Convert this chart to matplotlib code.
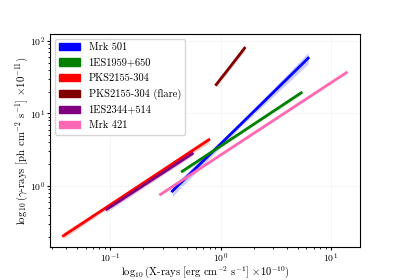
import numpy as np
import matplotlib
matplotlib.use("Agg")
import matplotlib.pyplot as plt
from matplotlib.patches import Patch

plt.rcParams["font.family"] = "serif"
plt.rcParams["font.serif"] = ["cmr10"]
plt.rcParams["mathtext.fontset"] = "cm"
plt.rcParams["axes.formatter.use_mathtext"] = True

SOURCES = ["Mrk 501", "1ES1959+650", "PKS2155-304", "PKS2155-304 (flare)", "1ES2344+514", "Mrk 421"]
COLORS = ["blue", "green", "red", "maroon", "purple", "hotpink"]

# x (X-ray flux, 1e-10 erg/cm2/s) at start, middle, end of each fit
X_FIT = [
    [0.366, 1.51, 6.22],
    [0.45, 1.55, 5.37],
    [0.0378, 0.172, 0.784],
    [0.914, 1.23, 1.65],
    [0.0933, 0.228, 0.555],
    [0.286, 1.99, 13.8],
]
# best-fit gamma flux (1e-11 ph/cm2/s)
Y_FIT = [
    [0.855, 7.0, 57.5],
    [1.6, 5.5, 19.2],
    [0.208, 0.95, 4.34],
    [24.9, 44.3, 78.8],
    [0.48, 1.16, 2.79],
    [0.77, 5.3, 36.4],
]
Y_LOW = [
    [0.72, 6.5, 48.0],
    [1.5, 5.3, 18.0],
    [0.19, 0.9, 3.9],
    [23.0, 41.0, 72.0],
    [0.44, 1.08, 2.6],
    [0.74, 5.15, 35.0],
]
Y_HIGH = [
    [1.0, 7.5, 69.0],
    [1.7, 5.7, 20.4],
    [0.23, 1.0, 4.8],
    [27.0, 48.0, 88.0],
    [0.52, 1.24, 3.0],
    [0.80, 5.45, 38.0],
]


def main():
    fig, ax = plt.subplots(figsize=(4, 2.8), dpi=100)
    fig.subplots_adjust(bottom=0.118)

    for name, c, xs, ys, lo, hi in zip(SOURCES, COLORS, X_FIT, Y_FIT, Y_LOW, Y_HIGH):
        ax.fill_between(xs, lo, hi, color=c, alpha=0.2, linewidth=0)
        ax.plot(xs, ys, color=c, lw=2)

    ax.set_xscale("log")
    ax.set_yscale("log")
    ax.set_xlim(0.0286, 18.3)
    ax.set_ylim(0.146, 125)
    ax.grid(True, which="major", color="0.96", lw=0.6)
    ax.tick_params(which="major", labelsize=7, length=2.5, pad=0.8)
    ax.tick_params(which="minor", length=1.5)

    ax.set_xlabel(r"$\log_{10}$(X-rays [erg cm$^{-2}$ s$^{-1}$] $\times 10^{-10}$)", fontsize=7.6)
    ax.set_ylabel(r"$\log_{10}$($\gamma$-rays [ph cm$^{-2}$ s$^{-1}$] $\times 10^{-11}$)", fontsize=7.8)
    ax.xaxis.set_label_coords(0.5, -0.08)
    ax.yaxis.set_label_coords(-0.064, 0.5)

    handles = [Patch(color=c, label=n) for n, c in zip(SOURCES, COLORS)]
    ax.legend(handles=handles, loc="upper left", fontsize=7.5, handlelength=2.0,
              labelspacing=0.55)

    fig.savefig("out.png", dpi=100)
    plt.close(fig)


if __name__ == "__main__":
    main()
